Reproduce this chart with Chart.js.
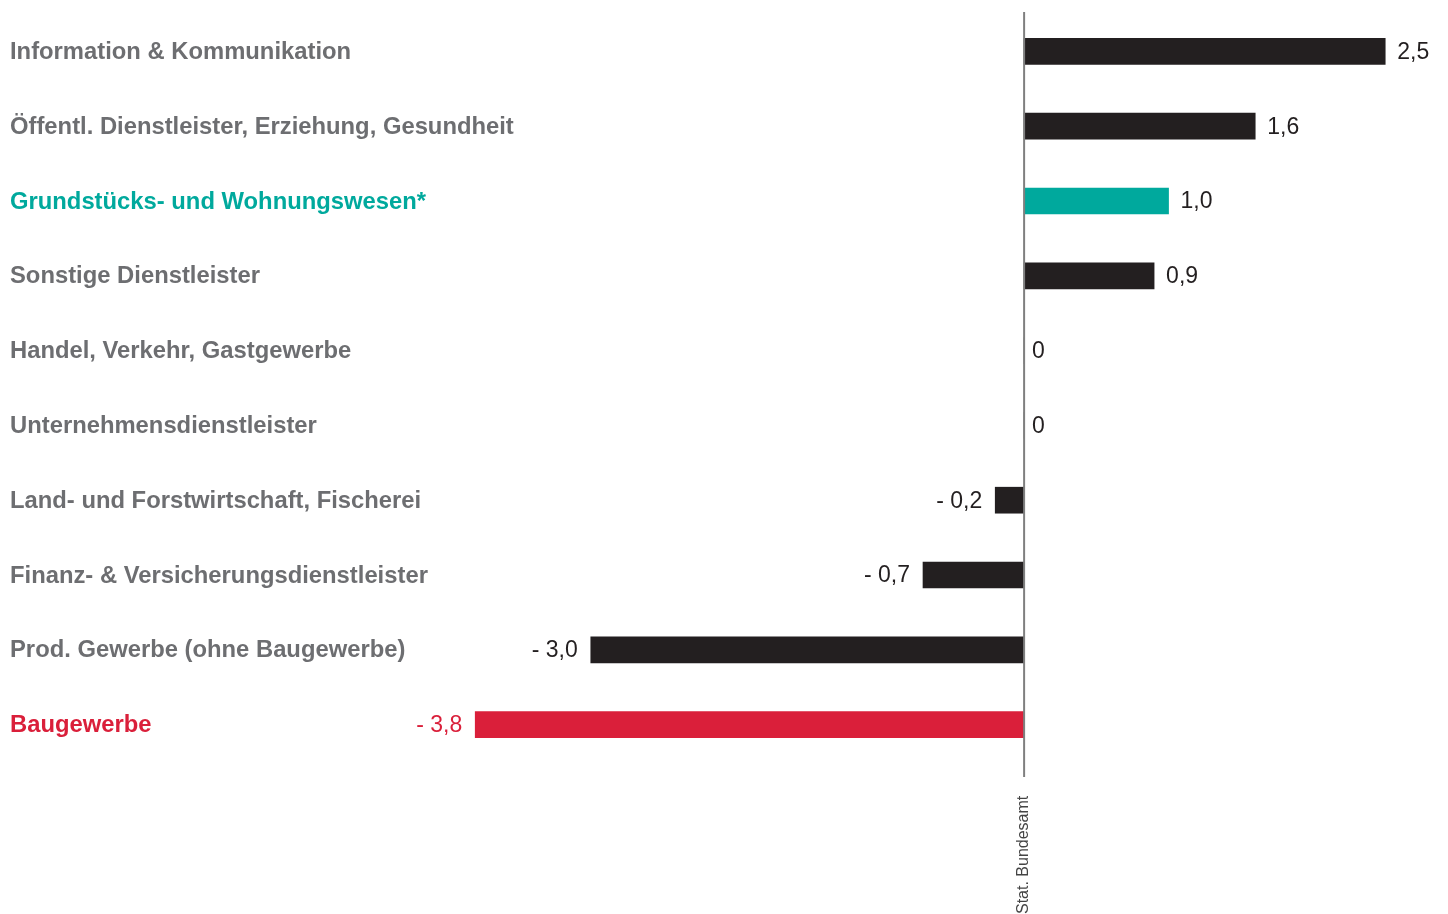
<!DOCTYPE html>
<html>
<head>
<meta charset="utf-8">
<script src="https://cdn.jsdelivr.net/npm/chart.js@4/dist/chart.umd.min.js"></script>
<style>
  html, body { margin: 0; padding: 0; background: #fff; }
  #wrap { width: 1448px; height: 914px; position: relative; }
</style>
</head>
<body>
<div id="wrap"><canvas id="chart"></canvas></div>
<script>
const categories = [
  'Information & Kommunikation',
  'Öffentl. Dienstleister, Erziehung, Gesundheit',
  'Grundstücks- und Wohnungswesen*',
  'Sonstige Dienstleister',
  'Handel, Verkehr, Gastgewerbe',
  'Unternehmensdienstleister',
  'Land- und Forstwirtschaft, Fischerei',
  'Finanz- & Versicherungsdienstleister',
  'Prod. Gewerbe (ohne Baugewerbe)',
  'Baugewerbe'
];
const values = [2.5, 1.6, 1.0, 0.9, 0, 0, -0.2, -0.7, -3.0, -3.8];
const source = 'Stat. Bundesamt';

// styling
const BAR = '#231f20', TEAL = '#00a99d', RED = '#da1f3a', GREY = '#6d6e71';
const highlight = { 2: TEAL, 9: RED };
const barColors = categories.map((c, i) => highlight[i] || BAR);
const labelColors = categories.map((c, i) => highlight[i] || GREY);
const valueColors = categories.map((c, i) => i === 9 ? RED : BAR);

function fmt(v) {
  if (v === 0) return '0';
  const s = Math.abs(v).toFixed(1).replace('.', ',');
  return v < 0 ? '- ' + s : s;
}

const annotate = {
  id: 'annotate',
  afterDatasetsDraw(chart) {
    const { ctx, scales: { x, y } } = chart;
    const x0 = x.getPixelForValue(0);
    ctx.save();
    // zero line
    ctx.strokeStyle = '#7f7f7f';
    ctx.lineWidth = 2;
    ctx.beginPath();
    ctx.moveTo(x0, 12);
    ctx.lineTo(x0, 777);
    ctx.stroke();

    ctx.textBaseline = 'middle';
    categories.forEach((c, i) => {
      const py = y.getPixelForValue(i);
      ctx.font = "bold 23.8px 'Liberation Sans', Arial, sans-serif";
      ctx.fillStyle = labelColors[i];
      ctx.textAlign = 'left';
      ctx.fillText(c, 10, py + 1);

      const v = values[i];
      const px = x.getPixelForValue(v);
      ctx.font = "23px 'Liberation Sans', Arial, sans-serif";
      ctx.fillStyle = valueColors[i];
      if (v < 0) {
        ctx.textAlign = 'right';
        ctx.fillText(fmt(v), px - 13, py + 1);
      } else {
        ctx.textAlign = 'left';
        ctx.fillText(fmt(v), v === 0 ? x0 + 8 : px + 12, py + 1);
      }
    });

    // source
    ctx.translate(x0 - 1, 914);
    ctx.rotate(-Math.PI / 2);
    ctx.font = "16px 'Liberation Sans', Arial, sans-serif";
    ctx.fillStyle = '#444';
    ctx.textAlign = 'left';
    ctx.textBaseline = 'middle';
    ctx.fillText(source, 0, 0);
    ctx.restore();
  }
};

new Chart(document.getElementById('chart'), {
  type: 'bar',
  data: {
    labels: categories,
    datasets: [{ data: values, backgroundColor: barColors, barThickness: 26 }]
  },
  options: {
    indexAxis: 'y',
    responsive: true,
    maintainAspectRatio: false,
    animation: false,
    layout: { padding: { left: 13, right: 5, top: 14, bottom: 152 } },
    plugins: { legend: { display: false }, tooltip: { enabled: false } },
    scales: {
      x: { min: -7, max: 2.9, display: false, grid: { display: false } },
      y: { display: false, grid: { display: false } }
    }
  },
  plugins: [annotate]
});
</script>
</body>
</html>
